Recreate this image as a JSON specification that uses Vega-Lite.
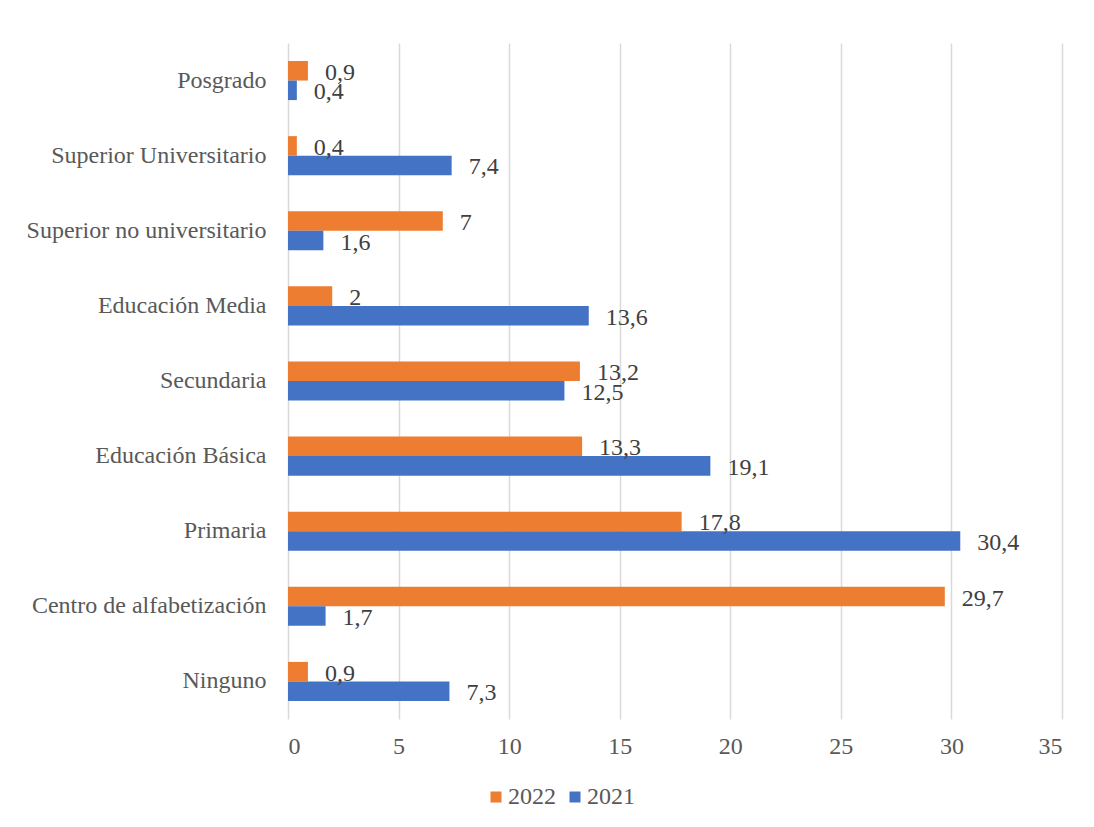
{
  "$schema": "https://vega.github.io/schema/vega-lite/v6.json",
  "width": 774,
  "height": 676,
  "autosize": {"type": "none"},
  "padding": {"left": 288, "top": 43, "right": 32, "bottom": 108},
  "background": "white",
  "data": {
    "values": [
      {"nivel": "Posgrado", "anio": "2022", "valor": 0.9},
      {"nivel": "Posgrado", "anio": "2021", "valor": 0.4},
      {"nivel": "Superior Universitario", "anio": "2022", "valor": 0.4},
      {"nivel": "Superior Universitario", "anio": "2021", "valor": 7.4},
      {"nivel": "Superior no universitario", "anio": "2022", "valor": 7},
      {"nivel": "Superior no universitario", "anio": "2021", "valor": 1.6},
      {"nivel": "Educación Media", "anio": "2022", "valor": 2},
      {"nivel": "Educación Media", "anio": "2021", "valor": 13.6},
      {"nivel": "Secundaria", "anio": "2022", "valor": 13.2},
      {"nivel": "Secundaria", "anio": "2021", "valor": 12.5},
      {"nivel": "Educación Básica", "anio": "2022", "valor": 13.3},
      {"nivel": "Educación Básica", "anio": "2021", "valor": 19.1},
      {"nivel": "Primaria", "anio": "2022", "valor": 17.8},
      {"nivel": "Primaria", "anio": "2021", "valor": 30.4},
      {"nivel": "Centro de alfabetización", "anio": "2022", "valor": 29.7},
      {"nivel": "Centro de alfabetización", "anio": "2021", "valor": 1.7},
      {"nivel": "Ninguno", "anio": "2022", "valor": 0.9},
      {"nivel": "Ninguno", "anio": "2021", "valor": 7.3}
    ]
  },
  "encoding": {
    "y": {
      "field": "nivel",
      "type": "nominal",
      "sort": ["Posgrado", "Superior Universitario", "Superior no universitario", "Educación Media", "Secundaria", "Educación Básica", "Primaria", "Centro de alfabetización", "Ninguno"],
      "scale": {"paddingInner": 0.48, "paddingOuter": 0.24},
      "axis": {
        "title": null,
        "domain": false,
        "ticks": false,
        "grid": false,
        "labelPadding": 22,
        "labelFont": "Liberation Serif",
        "labelFontSize": 24,
        "labelColor": "#595959",
        "labelLimit": 400
      }
    },
    "yOffset": {
      "field": "anio",
      "type": "nominal",
      "sort": ["2022", "2021"],
      "scale": {"paddingInner": 0, "paddingOuter": 0}
    },
    "x": {
      "field": "valor",
      "type": "quantitative",
      "scale": {"domain": [0, 35], "nice": false},
      "axis": {
        "title": null,
        "values": [0, 5, 10, 15, 20, 25, 30, 35],
        "domain": false,
        "ticks": false,
        "grid": true,
        "gridColor": "#D9D9D9",
        "gridWidth": 1.5,
        "labelPadding": 15,
        "labelFont": "Liberation Serif",
        "labelFontSize": 24,
        "labelColor": "#595959"
      }
    }
  },
  "layer": [
    {
      "mark": {"type": "bar"},
      "encoding": {
        "color": {
          "field": "anio",
          "type": "nominal",
          "scale": {"domain": ["2022", "2021"], "range": ["#ED7D31", "#4472C4"]},
          "legend": {
            "title": null,
            "orient": "none",
            "direction": "horizontal",
            "legendX": 196,
            "legendY": 742,
            "symbolType": "square",
            "symbolSize": 121,
            "symbolStrokeWidth": 0,
            "labelFont": "Liberation Serif",
            "labelFontSize": 24,
            "labelColor": "#595959",
            "labelOffset": 0,
            "columnPadding": 7
          }
        }
      }
    },
    {
      "mark": {
        "type": "text",
        "align": "left",
        "baseline": "middle",
        "dx": 17,
        "dy": 2,
        "font": "Liberation Serif",
        "fontSize": 24,
        "color": "#404040"
      },
      "encoding": {
        "text": {"field": "valor", "type": "quantitative", "format": ".1~f"}
      }
    }
  ],
  "config": {
    "view": {"stroke": null},
    "locale": {
      "number": {"decimal": ",", "thousands": ".", "grouping": [3], "currency": ["", " €"]}
    }
  }
}
